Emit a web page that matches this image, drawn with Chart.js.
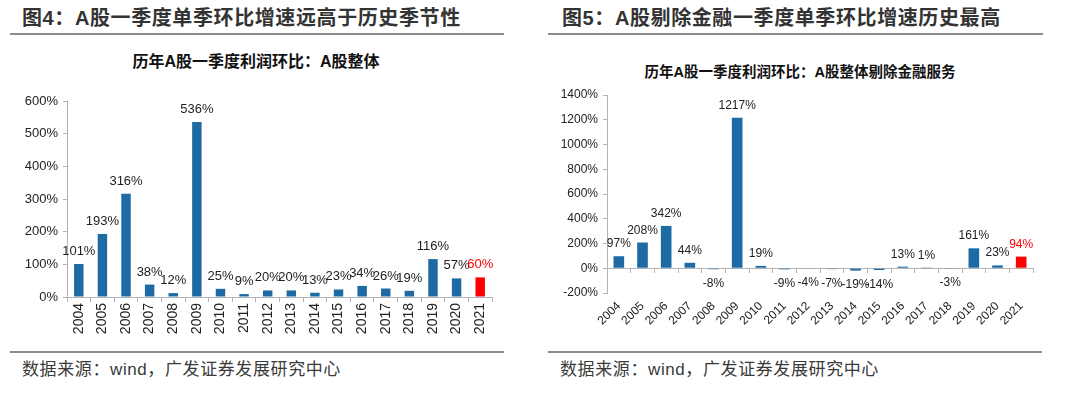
<!DOCTYPE html>
<html>
<head>
<meta charset="utf-8">
<script src="https://cdn.jsdelivr.net/npm/chart.js@4.4.1/dist/chart.umd.min.js"></script>
<style>
  body { margin: 0; width: 1080px; height: 398px; background: #fff; position: relative; overflow: hidden;
         font-family: "Liberation Sans", "Noto Sans CJK SC", sans-serif; color: #333; }
  .t { position: absolute; top: 5px; font-size: 20px; line-height: 26px; font-weight: bold; white-space: nowrap; letter-spacing: 0.6px; }
  .rule { position: absolute; height: 2px; background: #8c8c8c; }
  .sub { position: absolute; text-align: center; font-weight: bold; white-space: nowrap; color: #111; }
  .src { position: absolute; top: 359px; font-size: 17px; line-height: 22px; white-space: nowrap; letter-spacing: 0.6px; color: #3a3a3a; }
  canvas { position: absolute; top: 80px; }
</style>
</head>
<body>
<div class="t" style="left:22px">图4：A股一季度单季环比增速远高于历史季节性</div>
<div class="rule" style="left:10px;top:33px;width:494px"></div>
<div class="sub" style="left:0;width:512px;top:52px;font-size:16px;line-height:20px">历年A股一季度利润环比：A股整体</div>
<canvas id="graficaA" width="510" height="260" style="left:0"></canvas>
<div class="rule" style="left:10px;top:351px;width:494px"></div>
<div class="src" style="left:22px">数据来源：wind，广发证券发展研究中心</div>

<div class="t" style="left:562px">图5：A股剔除金融一季度单季环比增速历史最高</div>
<div class="rule" style="left:548px;top:33px;width:495px"></div>
<div class="sub" style="left:548px;width:504px;top:62px;font-size:14.5px;line-height:20px">历年A股一季度利润环比：A股整体剔除金融服务</div>
<canvas id="graficaB" width="510" height="260" style="left:540px"></canvas>
<div class="rule" style="left:548px;top:351px;width:494px"></div>
<div class="src" style="left:560px">数据来源：wind，广发证券发展研究中心</div>

<script>
const years = ["2004", "2005", "2006", "2007", "2008", "2009", "2010", "2011", "2012",
               "2013", "2014", "2015", "2016", "2017", "2018", "2019", "2020", "2021"];
// 一季度利润环比（%）
const qoqTotal = [101, 193, 316, 38, 12, 536, 25, 9, 20, 20, 13, 23, 34, 26, 19, 116, 57, 60];
const qoqExFin = [97, 208, 342, 44, -8, 1217, 19, -9, -4, -7, -19, -14, 13, 1, -3, 161, 23, 94];
const ticksTotal = [0, 100, 200, 300, 400, 500, 600];
const ticksExFin = [-200, 0, 200, 400, 600, 800, 1000, 1200, 1400];
const highlightYear = "2021";

const AZUL = "#1d6aa5";
const ROJO = "#ff0000";
const GRIS = "#b3b3b3";
const TEXTO = "#222";

// etiquetas encima / debajo de cada barra
const barLabels = {
  id: "barLabels",
  afterDatasetsDraw(chart, args, opts) {
    const ctx = chart.ctx;
    const vals = chart.data.datasets[0].data;
    ctx.save();
    ctx.font = opts.size + "px 'Liberation Sans', Arial, sans-serif";
    ctx.textAlign = "center";
    ctx.textBaseline = "alphabetic";
    chart.getDatasetMeta(0).data.forEach((bar, i) => {
      const v = vals[i];
      ctx.fillStyle = chart.data.labels[i] === highlightYear ? ROJO : TEXTO;
      const y = v >= 0 ? bar.y - 9 : bar.y + 9 + opts.size * 0.72;
      ctx.fillText(v + "%", bar.x, y);
    });
    ctx.restore();
  }
};

const colores = years.map(y => (y === highlightYear ? ROJO : AZUL));

function ejeY(ticks, size) {
  return {
    min: ticks[0],
    max: ticks[ticks.length - 1],
    ticks: { stepSize: ticks[1] - ticks[0], callback: v => v + "%", color: TEXTO,
             font: { size: size, family: "'Liberation Sans', Arial" }, padding: 5 },
    grid: { drawOnChartArea: false, tickLength: 4, color: GRIS },
    border: { color: GRIS },
    afterFit: s => { s.width = 67; }
  };
}

new Chart(document.getElementById("graficaA").getContext("2d"), {
  type: "bar",
  data: {
    labels: years,
    datasets: [{ data: qoqTotal, backgroundColor: colores, barPercentage: 0.4, categoryPercentage: 1 }]
  },
  options: {
    responsive: false,
    animation: false,
    events: [],
    layout: { padding: { top: 21, right: 18, left: 0, bottom: 0 } },
    plugins: { legend: { display: false }, tooltip: { enabled: false }, barLabels: { size: 13 } },
    scales: {
      x: {
        offset: true,
        grid: { drawOnChartArea: false, tickLength: 5, color: GRIS, offset: true },
        border: { color: GRIS },
        ticks: { minRotation: 90, maxRotation: 90, autoSkip: false, color: TEXTO, padding: 1,
                 font: { size: 14, family: "'Liberation Sans', Arial" } },
        afterFit: s => { s.height = 43; }
      },
      y: ejeY(ticksTotal, 13)
    }
  },
  plugins: [barLabels]
});

new Chart(document.getElementById("graficaB").getContext("2d"), {
  type: "bar",
  data: {
    labels: years,
    datasets: [{ data: qoqExFin, backgroundColor: colores, barPercentage: 0.45, categoryPercentage: 1 }]
  },
  options: {
    responsive: false,
    animation: false,
    events: [],
    layout: { padding: { top: 15, right: 17, left: 0, bottom: 0 } },
    plugins: { legend: { display: false }, tooltip: { enabled: false }, barLabels: { size: 12 } },
    scales: {
      x: {
        offset: true,
        grid: { display: false, drawTicks: false },
        border: { display: false },
        ticks: { minRotation: 45, maxRotation: 45, autoSkip: false, color: TEXTO, padding: 6,
                 font: { size: 12, family: "'Liberation Sans', Arial" } },
        afterFit: s => { s.height = 47; }
      },
      // eje en el cero con marcas hacia abajo
      x0: {
        type: "category",
        position: { y: 0 },
        offset: true,
        grid: { drawOnChartArea: false, tickLength: 4, color: GRIS, offset: true },
        border: { color: GRIS },
        ticks: { display: false }
      },
      y: ejeY(ticksExFin, 12)
    }
  },
  plugins: [barLabels]
});
</script>
</body>
</html>
